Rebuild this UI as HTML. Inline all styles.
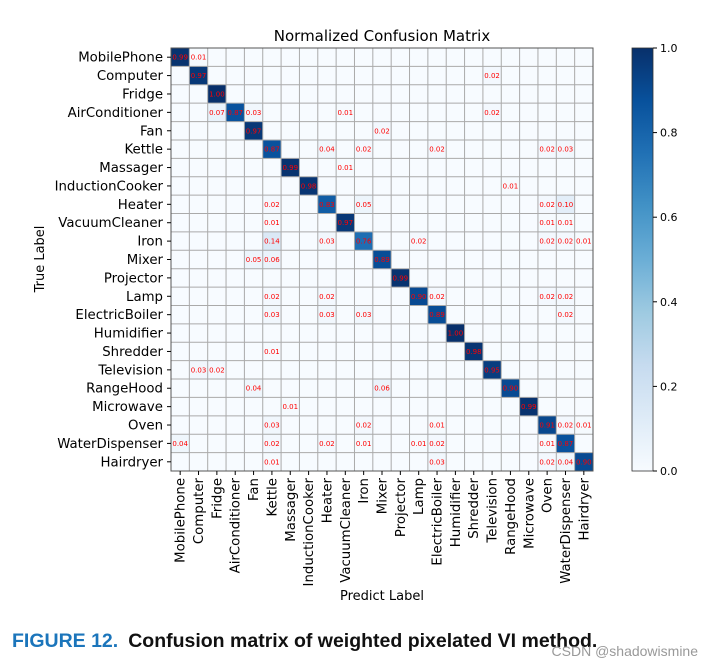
<!DOCTYPE html>
<html><head><meta charset="utf-8"><style>
body{margin:0;background:#fff;width:714px;height:667px;overflow:hidden;font-family:"Liberation Sans","DejaVu Sans",sans-serif}
</style></head><body>
<svg width="714" height="667" id="svg" font-family="DejaVu Sans, Liberation Sans, sans-serif"></svg>
<script>
const classes=["MobilePhone","Computer","Fridge","AirConditioner","Fan","Kettle","Massager","InductionCooker","Heater","VacuumCleaner","Iron","Mixer","Projector","Lamp","ElectricBoiler","Humidifier","Shredder","Television","RangeHood","Microwave","Oven","WaterDispenser","Hairdryer"];
// sparse entries: [row, col, value]
const cells=[
[0,0,0.99],[0,1,0.01],
[1,1,0.97],[1,17,0.02],
[2,2,1.00],
[3,2,0.07],[3,3,0.87],[3,4,0.03],[3,9,0.01],[3,17,0.02],
[4,4,0.97],[4,11,0.02],
[5,5,0.87],[5,8,0.04],[5,10,0.02],[5,14,0.02],[5,20,0.02],[5,21,0.03],
[6,6,0.99],[6,9,0.01],
[7,7,0.98],[7,18,0.01],
[8,5,0.02],[8,8,0.83],[8,10,0.05],[8,20,0.02],[8,21,0.10],
[9,5,0.01],[9,9,0.97],[9,20,0.01],[9,21,0.01],
[10,5,0.14],[10,8,0.03],[10,10,0.76],[10,13,0.02],[10,20,0.02],[10,21,0.02],[10,22,0.01],
[11,4,0.05],[11,5,0.06],[11,11,0.89],
[12,12,0.99],
[13,5,0.02],[13,8,0.02],[13,13,0.90],[13,14,0.02],[13,20,0.02],[13,21,0.02],
[14,5,0.03],[14,8,0.03],[14,10,0.03],[14,14,0.89],[14,21,0.02],
[15,15,1.00],
[16,5,0.01],[16,16,0.98],
[17,1,0.03],[17,2,0.02],[17,17,0.95],
[18,4,0.04],[18,11,0.06],[18,18,0.90],
[19,6,0.01],[19,19,0.99],
[20,5,0.03],[20,10,0.02],[20,14,0.01],[20,20,0.91],[20,21,0.02],[20,22,0.01],
[21,0,0.04],[21,5,0.02],[21,8,0.02],[21,10,0.01],[21,13,0.01],[21,14,0.02],[21,20,0.01],[21,21,0.87],
[22,5,0.01],[22,14,0.03],[22,20,0.02],[22,21,0.04],[22,22,0.90]];
const cbTicks=[0,0.2,0.4,0.6,0.8,1.0];
const cbLabels=["0.0","0.2","0.4","0.6","0.8","1.0"];

const NS="http://www.w3.org/2000/svg",svg=document.getElementById('svg');
function mk(t,a,txt,p){const e=document.createElementNS(NS,t);for(const k in a)e.setAttribute(k,a[k]);if(txt!=null)e.textContent=txt;(p||svg).appendChild(e);return e;}
const X0=171,X1=593,Y0=48,Y1=471,n=classes.length,cw=(X1-X0)/n,ch=(Y1-Y0)/n;
const xs=c=>X0+c*cw, ys=r=>Y0+r*ch;
const stops=["#f7fbff","#deebf7","#c6dbef","#9ecae1","#6baed6","#4292c6","#2171b5","#08519c","#08306b"];
function hex(h){return [1,3,5].map(i=>parseInt(h.substr(i,2),16));}
function blues(v){v=Math.max(0,Math.min(1,v));const p=v*8,i=Math.min(7,Math.floor(p)),f=p-i;const a=hex(stops[i]),b=hex(stops[i+1]);return "rgb("+a.map((x,k)=>Math.round(x+(b[k]-x)*f)).join(",")+")";}
const g=mk('g',{});


mk('rect',{x:X0,y:Y0,width:X1-X0,height:Y1-Y0,fill:blues(0)},null,g);
cells.forEach(([r,c,v])=>{
 const e=mk('rect',{x:xs(c),y:ys(r),width:cw,height:ch,fill:blues(v)},null,g);
 
 
});
for(let i=0;i<=n;i++){
 mk('line',{x1:xs(i),x2:xs(i),y1:Y0,y2:Y1,stroke:"#aaa","stroke-width":1},null,g);
 mk('line',{x1:X0,x2:X1,y1:ys(i),y2:ys(i),stroke:"#aaa","stroke-width":1},null,g);
}
mk('rect',{x:X0,y:Y0,width:X1-X0,height:Y1-Y0,fill:"none",stroke:"#555","stroke-width":1},null,g);
cells.forEach(([r,c,v])=>{
 const t=mk('text',{x:xs(c)+cw/2,y:ys(r)+ch/2+2.5,"text-anchor":"middle","font-size":7,fill:"#ff0000"},v.toFixed(2));
 
 
});
classes.forEach((name,i)=>{
 const t=mk('text',{x:X0-8,y:ys(i)+ch/2+4.5,"text-anchor":"end","font-size":13.3,fill:"#000"},name);
 
 
 mk('line',{x1:X0-4,x2:X0,y1:ys(i)+ch/2,y2:ys(i)+ch/2,stroke:"#000"});
 const cx=xs(i)+cw/2;
 const u=mk('text',{x:0,y:0,"text-anchor":"end","font-size":13.3,fill:"#000",transform:`translate(${cx+4.5},${Y1+7}) rotate(-90)`},name);
 
 
 mk('line',{x1:cx,x2:cx,y1:Y1,y2:Y1+4,stroke:"#000"});
});
let t=mk('text',{x:(X0+X1)/2,y:41,"text-anchor":"middle","font-size":15,fill:"#000"},"Normalized Confusion Matrix");

t=mk('text',{x:(X0+X1)/2,y:600,"text-anchor":"middle","font-size":13,fill:"#000"},"Predict Label");

t=mk('text',{x:0,y:0,"text-anchor":"middle","font-size":13,fill:"#000",transform:"translate(44,259) rotate(-90)"},"True Label");

// colorbar
const CX=632,CW=21;
const defs=mk('defs',{});const lg=mk('linearGradient',{id:"cb",x1:0,y1:1,x2:0,y2:0},null,defs);
for(let i=0;i<=8;i++)mk('stop',{offset:i/8,"stop-color":stops[i]},null,lg);
const cb=mk('rect',{x:CX,y:Y0,width:CW,height:Y1-Y0,fill:"url(#cb)",stroke:"#333","stroke-width":0.8});

const cy=v=>Y1-v*(Y1-Y0);
cbTicks.forEach((v,i)=>{
 mk('line',{x1:CX+CW,x2:CX+CW+4,y1:cy(v),y2:cy(v),stroke:"#000"});
 const l=mk('text',{x:CX+CW+7,y:cy(v)+4,"font-size":11,fill:"#000"},cbLabels[i]);
 
});
// caption
const cap=mk('text',{x:12,y:647,"font-size":19.5,"font-weight":"bold","font-family":"Liberation Sans, sans-serif"});

mk('tspan',{fill:"#1b75bb"},"FIGURE 12.",cap);
mk('tspan',{fill:"#111",dx:10},"Confusion matrix of weighted pixelated VI method.",cap);
t=mk('text',{x:698,y:656,"text-anchor":"end","font-size":14,fill:"#999","font-family":"Liberation Sans, sans-serif"},"CSDN @shadowismine");

</script>
</body></html>
